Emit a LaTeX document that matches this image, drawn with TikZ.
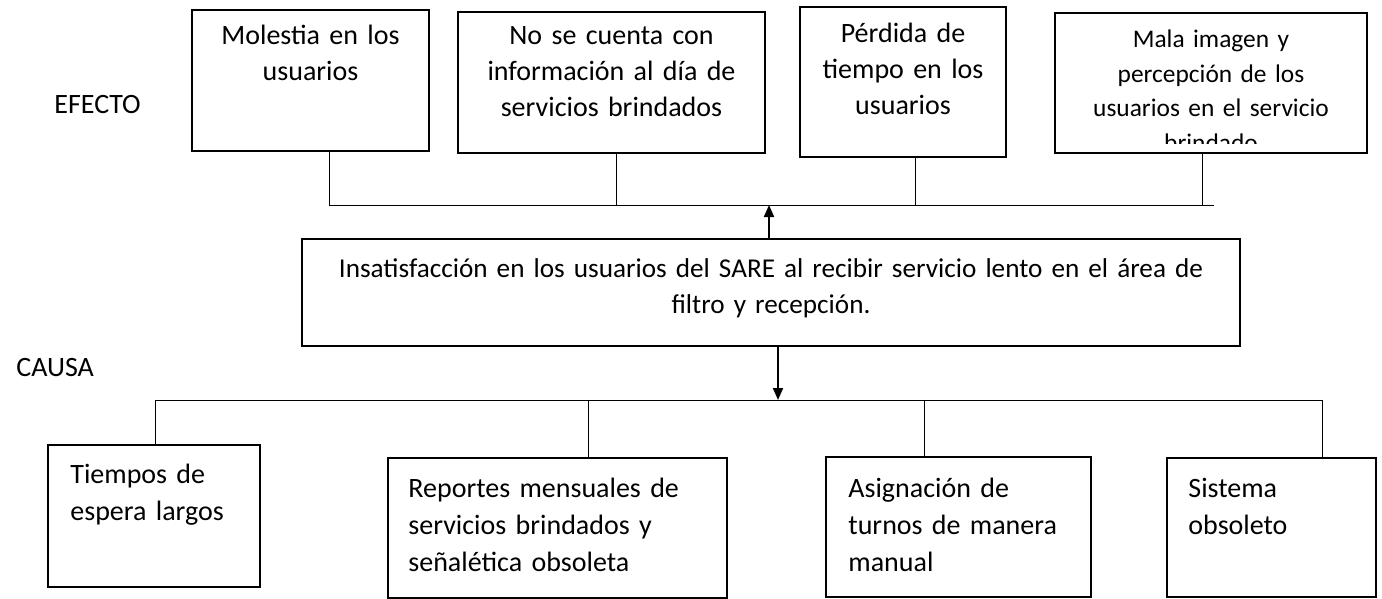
\documentclass[tikz,border=0pt]{standalone}
\usepackage{fontspec}
\setmainfont{Carlito}
\usetikzlibrary{arrows.meta,fit}
\begin{document}
\begin{tikzpicture}[x=0.5pt,y=-0.5pt,
  box/.style={draw,line width=1pt,inner sep=0pt,fit={#1}},
  conn/.style={line width=0.5pt},
  arr/.style={line width=1pt,-{Triangle[length=6pt,width=5pt]}},
  tt/.style={font=\fontsize{14}{18}\selectfont,align=center,inner sep=0pt,anchor=base},
  bt/.style={font=\fontsize{14}{18.5}\selectfont,align=left,inner sep=0pt,anchor=base west,text width=170pt},
  lbl/.style={font=\fontsize{14}{16}\selectfont,inner sep=0pt,anchor=base west}]
\useasboundingbox (0,0) rectangle (1382,599);
% labels
\node[lbl] (ef) at (54,114) {EFECTO};
\node[lbl] (ca) at (16,376) {CAUSA};
% effect boxes
\node[box={(192,10)(429,151)}] (e1) {};
\node[box={(458,12)(765,153)}] (e2) {};
\node[box={(800,7)(1006,157)}] (e3) {};
\node[tt,text width=115pt] (e1t) at (310.5,45) {Molestia en los\\usuarios};
\node[tt,text width=150pt] (e2t) at (611.5,45) {No se cuenta con\\información al día de\\servicios brindados};
\node[tt,text width=100pt] (e3t) at (903,43) {Pérdida de\\tiempo en los\\usuarios};
\begin{scope}
\clip (1055,13) rectangle (1365,144);
\node[tt,text width=150pt,font=\fontsize{12.7}{17.2}\selectfont] (e4t) at (1211,48) {Mala imagen y\\percepción de los\\usuarios en el servicio\\brindado};
\end{scope}
\node[box={(1055,13)(1367,153)}] (e4) {};
% central problem
\node[box={(302,239)(1240,346)}] (c) {};
\node[tt,text width=460pt,font=\fontsize{13.6}{17.5}\selectfont] (ct) at (771,278) {Insatisfacción en los usuarios del SARE al recibir servicio lento en el área de\\filtro y recepción.};
% top bus
\coordinate (tb1) at (329,205);
\coordinate (tb2) at (616,205);
\coordinate (tb3) at (915,205);
\coordinate (tb4) at (1202,205);
\coordinate (tbe) at (1214,205);
\coordinate (tba) at (769,205);
\draw[conn] (tb1) -- (tbe);
\draw[conn] (e1.south -| tb1) -- (tb1);
\draw[conn] (e2.south -| tb2) -- (tb2);
\draw[conn] (e3.south -| tb3) -- (tb3);
\draw[conn] (e4.south -| tb4) -- (tb4);
\draw[arr] (c.north -| tba) -- (tba);
% cause boxes
\node[box={(48,445)(260,587)}] (k1) {};
\node[box={(388,458)(727,598)}] (k2) {};
\node[box={(826,457)(1091,597)}] (k3) {};
\node[box={(1167,458)(1376,597)}] (k4) {};
\node[bt] (k1t) at (70,483) {Tiempos de\\espera largos};
\node[bt] (k2t) at (408,497) {Reportes mensuales de\\servicios brindados y\\señalética obsoleta};
\node[bt] (k3t) at (848,497) {Asignación de\\turnos de manera\\manual};
\node[bt] (k4t) at (1188,497) {Sistema\\obsoleto};
% bottom bus
\coordinate (bb1) at (155,400);
\coordinate (bb2) at (588,400);
\coordinate (bb3) at (924,400);
\coordinate (bb4) at (1322,400);
\coordinate (bba) at (778,400);
\draw[conn] (bb1) -- (bb4);
\draw[conn] (bb1) -- (k1.north -| bb1);
\draw[conn] (bb2) -- (k2.north -| bb2);
\draw[conn] (bb3) -- (k3.north -| bb3);
\draw[conn] (bb4) -- (k4.north -| bb4);
\draw[arr] (c.south -| bba) -- (bba);
\end{tikzpicture}
\end{document}
